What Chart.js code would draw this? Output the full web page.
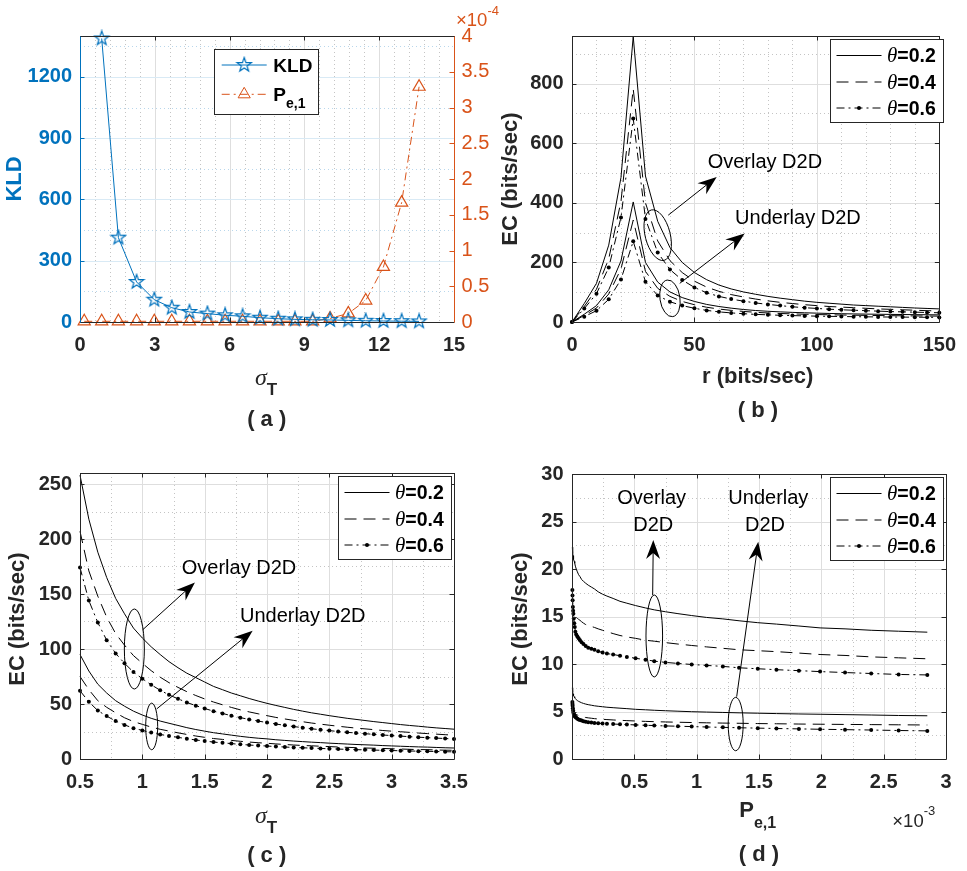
<!DOCTYPE html>
<html>
<head>
<meta charset="utf-8">
<script src="https://cdn.jsdelivr.net/npm/chart.js@4.4.1/dist/chart.umd.min.js"></script>
<style>
  html, body { margin: 0; padding: 0; background: #fff; }
  body { width: 967px; height: 871px; position: relative; overflow: hidden; }
  canvas { position: absolute; }
</style>
</head>
<body>
<canvas id="ca" width="520" height="440" style="left:0;top:0"></canvas>
<canvas id="cb" width="484" height="440" style="left:483px;top:0"></canvas>
<canvas id="cc" width="483" height="431" style="left:0;top:440px"></canvas>
<canvas id="cd" width="484" height="431" style="left:483px;top:440px"></canvas>
<script>
// ---- (a) KLD and P_e,1 versus sigma_T ----
const sigmaA = [0.17, 0.87, 1.54, 2.27, 2.98, 3.68, 4.39, 5.11, 5.82, 6.52, 7.22, 7.95, 8.62, 9.33, 10.03, 10.76, 11.46, 12.17, 12.9, 13.6];
const kld = [null, 1388, 413, 196, 109, 70, 49, 41, 33, 28, 21, 16, 13, 11, 10, 8, 6, 5, 4, 3];
const pe1 = [0.01, 0.01, 0.01, 0.01, 0.01, 0.01, 0.01, 0.01, 0.01, 0.01, 0.01, 0.01, 0.01, 0.01, 0.05, 0.12, 0.3, 0.77, 1.67, 3.29]; // x 1e-4
const ticksAx = [0, 3, 6, 9, 12, 15];
const ticksAy = [0, 300, 600, 900, 1200];
const ticksAy1 = [0, 0.5, 1, 1.5, 2, 2.5, 3, 3.5, 4];

// ---- (b) EC versus r ----
const rate = [0, 5, 10, 15, 20, 25, 30, 35, 40, 45, 50, 55, 60, 65, 70, 75, 80, 85, 90, 95, 100, 105, 110, 115, 120, 125, 130, 135, 140, 145, 150];
const ovlB02 = [0, 62, 130, 258, 485, 958, 490, 338, 250, 200, 166, 142, 124, 111, 101, 93, 86, 80, 75, 70, 66, 63, 60, 57, 55, 53, 51, 49, 47, 45.5, 44];
const ovlB04 = [0, 52, 110, 212, 405, 783, 400, 272, 206, 166, 137, 117, 103, 92, 84, 77, 71, 66, 62, 58, 55, 52, 50, 48, 46, 44, 42.5, 41, 39.5, 38, 37];
const ovlB06 = [0, 45, 95, 183, 351, 683, 346, 233, 176, 141, 116, 98, 86, 77, 70, 64, 59, 55, 51, 48, 45.5, 43, 41, 39.5, 38, 36.5, 35, 34, 33, 32, 31];
const undB02 = [0, 26, 55, 108, 205, 403, 200, 134, 101, 82, 69, 59, 52, 46.5, 42, 38.5, 36, 34, 32.3, 30.9, 29.7, 28.7, 27.8, 27.1, 26.5, 26, 25.5, 25.1, 24.7, 24.3, 24];
const undB04 = [0, 22, 47, 94, 178, 342, 170, 113, 86, 69, 58, 49.5, 43.5, 39, 35.5, 32.5, 30.3, 28.6, 27.2, 26, 25, 24.2, 23.4, 22.8, 22.2, 21.7, 21.2, 20.8, 20.4, 20, 19.7];
const undB06 = [0, 18, 38, 76, 143, 271, 135, 89, 68, 55, 46, 39, 34, 30.5, 27.8, 25.6, 24, 22.6, 21.5, 20.5, 19.7, 19, 18.4, 17.9, 17.4, 17, 16.7, 16.4, 16.1, 15.8, 15.5];
const ticksBx = [0, 50, 100, 150];
const ticksBy = [0, 200, 400, 600, 800];

// ---- (c) EC versus sigma_T ----
const sigmaC = [0.5, 0.571, 0.643, 0.714, 0.786, 0.857, 0.929, 1.0, 1.071, 1.143, 1.214, 1.286, 1.357, 1.429, 1.5, 1.571, 1.643, 1.714, 1.786, 1.857, 1.929, 2.0, 2.071, 2.143, 2.214, 2.286, 2.357, 2.429, 2.5, 2.571, 2.643, 2.714, 2.786, 2.857, 2.929, 3.0, 3.071, 3.143, 3.214, 3.286, 3.357, 3.429, 3.5];
const ovlC02 = [258, 218, 188, 165, 146, 132, 119, 110, 102, 95, 88.5, 83, 78, 74, 70, 66, 63, 60, 57.5, 55, 52.7, 50.6, 48.7, 46.9, 45.1, 43.5, 42, 40.7, 39.4, 38.2, 37, 36, 35, 34, 33.1, 32.2, 31.3, 30.5, 29.8, 29, 28.3, 27.7, 27.1];
const ovlC04 = [207, 171, 148, 129, 114, 103.5, 94, 87, 80.3, 74.4, 69.4, 65.1, 61.2, 57.7, 54.6, 51.8, 49.3, 46.9, 44.7, 42.8, 41.1, 39.4, 37.8, 36.4, 35.1, 33.9, 32.7, 31.7, 30.7, 29.8, 28.9, 28.1, 27.4, 26.7, 25.9, 25.3, 24.8, 24.2, 23.6, 23.1, 22.6, 22.1, 21.7];
const ovlC06 = [174, 144, 124, 108, 96, 87, 79, 73, 67.5, 62.5, 58.3, 54.7, 51.4, 48.5, 45.9, 43.5, 41.4, 39.4, 37.6, 36, 34.5, 33.1, 31.8, 30.6, 29.5, 28.5, 27.5, 26.6, 25.8, 25, 24.3, 23.6, 23, 22.4, 21.8, 21.3, 20.8, 20.3, 19.8, 19.4, 19, 18.6, 18.2];
const undC02 = [95, 80, 68, 60, 53, 48, 43.5, 40, 37, 34.5, 32.5, 30.5, 28.5, 26.8, 25.3, 23.9, 22.8, 21.7, 20.6, 19.7, 18.9, 18.3, 17.5, 16.9, 16.3, 15.8, 15.3, 14.9, 14.4, 14, 13.6, 13.2, 12.9, 12.6, 12.2, 11.9, 11.6, 11.3, 11, 10.8, 10.5, 10.2, 10];
const undC04 = [75, 63, 53, 47, 42, 37.5, 34, 31.5, 29, 27, 25.4, 23.8, 22.3, 20.9, 19.7, 18.6, 17.8, 16.9, 16.1, 15.4, 14.8, 14.3, 13.7, 13.2, 12.7, 12.3, 12, 11.6, 11.3, 10.9, 10.6, 10.3, 10, 9.8, 9.6, 9.3, 9.1, 8.8, 8.6, 8.5, 8.2, 8, 7.9];
const undC06 = [62, 52, 44, 39, 34.5, 31, 28, 26, 24, 22.3, 21, 19.7, 18.4, 17.3, 16.3, 15.4, 14.7, 14, 13.3, 12.7, 12.2, 11.8, 11.3, 10.9, 10.5, 10.2, 9.9, 9.6, 9.3, 9, 8.8, 8.5, 8.3, 8.1, 7.9, 7.7, 7.5, 7.3, 7.1, 7, 6.8, 6.6, 6.5];
const ticksCx = [0.5, 1, 1.5, 2, 2.5, 3, 3.5];
const ticksCy = [0, 50, 100, 150, 200, 250];

// ---- (d) EC versus P_e,1 (x 1e-3) ----
const pe1D = [0.003, 0.004, 0.005, 0.007, 0.009, 0.011, 0.014, 0.018, 0.022, 0.027, 0.034, 0.043, 0.053, 0.064, 0.077, 0.092, 0.11, 0.13, 0.155, 0.18, 0.21, 0.245, 0.28, 0.33, 0.385, 0.44, 0.51, 0.59, 0.66, 0.75, 0.85, 0.96, 1.08, 1.21, 1.34, 1.49, 1.64, 1.82, 1.99, 2.19, 2.4, 2.62, 2.85];
const ovlD02 = [22.3, 22.1, 21.9, 21.6, 21.4, 21.2, 21, 20.8, 20.6, 20.3, 20, 19.7, 19.4, 19.2, 18.9, 18.7, 18.5, 18.3, 18.1, 17.9, 17.6, 17.35, 17.15, 16.9, 16.6, 16.4, 16.15, 15.9, 15.7, 15.5, 15.3, 15.1, 14.9, 14.75, 14.55, 14.35, 14.2, 14, 13.8, 13.7, 13.55, 13.45, 13.35];
const ovlD04 = [16.8, 16.6, 16.4, 16.1, 15.9, 15.7, 15.5, 15.35, 15.2, 15.05, 14.9, 14.8, 14.7, 14.6, 14.45, 14.3, 14.15, 14.05, 13.95, 13.85, 13.7, 13.55, 13.4, 13.2, 13, 12.85, 12.7, 12.5, 12.4, 12.25, 12.1, 11.95, 11.8, 11.65, 11.5, 11.4, 11.3, 11.15, 11, 10.9, 10.75, 10.65, 10.55];
const ovlD06 = [17.8, 17.2, 16.7, 16, 15.6, 15.3, 14.8, 14.3, 13.9, 13.4, 13.1, 12.9, 12.7, 12.5, 12.3, 12.1, 11.9, 11.7, 11.6, 11.5, 11.35, 11.2, 11.1, 11, 10.87, 10.75, 10.6, 10.45, 10.3, 10.17, 10.06, 9.95, 9.85, 9.75, 9.6, 9.5, 9.4, 9.3, 9.2, 9.1, 9, 8.9, 8.85];
const undD02 = [7.5, 7.3, 7.15, 7, 6.85, 6.75, 6.65, 6.55, 6.45, 6.35, 6.25, 6.15, 6.07, 6, 5.92, 5.85, 5.78, 5.72, 5.66, 5.6, 5.55, 5.5, 5.45, 5.4, 5.35, 5.3, 5.23, 5.18, 5.13, 5.08, 5.03, 4.98, 4.94, 4.9, 4.86, 4.82, 4.78, 4.74, 4.71, 4.67, 4.63, 4.58, 4.55];
const undD04 = [5.6, 5.45, 5.35, 5.25, 5.15, 5.05, 4.97, 4.9, 4.83, 4.77, 4.7, 4.63, 4.57, 4.52, 4.47, 4.42, 4.37, 4.33, 4.29, 4.25, 4.21, 4.18, 4.15, 4.11, 4.07, 4.04, 4, 3.96, 3.93, 3.9, 3.87, 3.84, 3.81, 3.78, 3.76, 3.73, 3.71, 3.68, 3.66, 3.64, 3.62, 3.6, 3.58];
const undD06 = [6, 5.8, 5.6, 5.35, 5.1, 4.9, 4.75, 4.6, 4.5, 4.42, 4.33, 4.25, 4.17, 4.1, 4.04, 3.98, 3.93, 3.88, 3.84, 3.8, 3.77, 3.74, 3.71, 3.68, 3.65, 3.62, 3.59, 3.55, 3.52, 3.48, 3.45, 3.41, 3.37, 3.33, 3.29, 3.25, 3.21, 3.17, 3.13, 3.09, 3.05, 3, 2.96];
const ticksDx = [0.5, 1, 1.5, 2, 2.5, 3];
const ticksDy = [0, 5, 10, 15, 20, 25, 30];

// ---- styling ----
const BLUE = '#0072BD', ORANGE = '#D95319', AXIS = '#262626';
const SANS = '"Liberation Sans", Arial, Helvetica, sans-serif';
const SERIF = '"Liberation Serif", "Times New Roman", serif';
const DASH = [12, 7], DASHDOT = [8, 4, 2, 4];
const TICK = 4.5;

function pts(xs, ys) { return xs.map((x, i) => ({ x, y: ys[i] })); }

function starMarker(color, r) {
  const c = document.createElement('canvas');
  const s = Math.ceil(r * 2 + 3);
  c.width = c.height = s;
  const g = c.getContext('2d');
  g.strokeStyle = color;
  g.lineWidth = 1.2;
  g.beginPath();
  for (let k = 0; k < 10; k++) {
    const rad = k % 2 ? r * 0.4 : r;
    const ang = -Math.PI / 2 + k * Math.PI / 5;
    const px = s / 2 + rad * Math.cos(ang), py = s / 2 + rad * Math.sin(ang);
    k ? g.lineTo(px, py) : g.moveTo(px, py);
  }
  g.closePath();
  g.stroke();
  return c;
}
const starImg = starMarker(BLUE, 7.5);

function ecSet(label, xs, ys, kind) {
  return {
    label, data: pts(xs, ys), borderColor: '#000', borderWidth: 1,
    borderDash: kind === 'solid' ? [] : kind === 'dash' ? DASH : DASHDOT,
    pointRadius: kind === 'dot' ? 2 : 0, pointBackgroundColor: '#000',
    pointBorderWidth: 0, tension: 0, clip: false
  };
}

function axis(min, max, ticks, o) {
  return {
    type: 'linear', min, max, position: o.position,
    grid: { display: false, drawTicks: false },
    border: { display: false },
    afterBuildTicks: s => { s.ticks = ticks.map(v => ({ value: v })); },
    afterFit: o.fit,
    ticks: {
      autoSkip: false, maxRotation: 0, padding: o.pad, color: o.color || AXIS,
      font: { family: SANS, size: 20, weight: o.weight || 'bold' },
      callback: v => String(v)
    }
  };
}

// ---- drawing helpers ----
function lines(ctx, a, scale, vals, color, vertical) {
  ctx.strokeStyle = color;
  ctx.beginPath();
  vals.forEach(v => {
    const p = Math.round(scale.getPixelForValue(v)) + 0.5;
    if (vertical) { ctx.moveTo(p, a.top); ctx.lineTo(p, a.bottom); }
    else { ctx.moveTo(a.left, p); ctx.lineTo(a.right, p); }
  });
  ctx.stroke();
}

function minorVals(scale, step) {
  const majors = scale.ticks.map(t => t.value), out = [];
  for (let k = Math.ceil(scale.min / step); k * step < scale.max - 1e-9; k++) {
    const v = +(k * step).toFixed(6);
    if (v > scale.min && !majors.some(m => Math.abs(m - v) < 1e-6)) out.push(v);
  }
  return out;
}

function marks(ctx, a, scale, side, color) {
  ctx.strokeStyle = color;
  ctx.beginPath();
  scale.ticks.forEach(t => {
    const p = Math.round(scale.getPixelForValue(t.value)) + 0.5;
    if (side === 'bottom') { ctx.moveTo(p, a.bottom); ctx.lineTo(p, a.bottom - TICK); }
    if (side === 'top') { ctx.moveTo(p, a.top); ctx.lineTo(p, a.top + TICK); }
    if (side === 'left') { ctx.moveTo(a.left, p); ctx.lineTo(a.left + TICK, p); }
    if (side === 'right') { ctx.moveTo(a.right, p); ctx.lineTo(a.right - TICK, p); }
  });
  ctx.stroke();
}

function edge(ctx, x1, y1, x2, y2, color) {
  ctx.strokeStyle = color;
  ctx.beginPath(); ctx.moveTo(x1, y1); ctx.lineTo(x2, y2); ctx.stroke();
}

function runs(ctx, x, y, list, align) {
  let w = 0;
  list.forEach(r => { ctx.font = r.f; w += ctx.measureText(r.t).width; });
  let cx = align === 'center' ? x - w / 2 : x;
  ctx.textAlign = 'left';
  list.forEach(r => {
    ctx.font = r.f;
    ctx.fillStyle = r.c || AXIS;
    ctx.fillText(r.t, cx, y + (r.dy || 0));
    cx += ctx.measureText(r.t).width;
  });
}

function marker(ctx, kind, x, y) {
  if (kind === 'dot') {
    ctx.fillStyle = '#000';
    ctx.beginPath(); ctx.arc(x, y, 2, 0, 2 * Math.PI); ctx.fill();
  } else if (kind === 'star') {
    ctx.drawImage(starImg, x - starImg.width / 2, y - starImg.height / 2);
  } else if (kind === 'tri') {
    ctx.strokeStyle = ORANGE;
    ctx.beginPath();
    for (let k = 0; k < 3; k++) {
      const ang = -Math.PI / 2 + k * 2 * Math.PI / 3;
      const px = x + 7 * Math.cos(ang), py = y + 7 * Math.sin(ang);
      k ? ctx.lineTo(px, py) : ctx.moveTo(px, py);
    }
    ctx.closePath(); ctx.stroke();
  }
}

function arrow(ctx, x1, y1, x2, y2) {
  const ang = Math.atan2(y2 - y1, x2 - x1);
  ctx.beginPath();
  ctx.moveTo(x1, y1);
  ctx.lineTo(x2 - 12 * Math.cos(ang), y2 - 12 * Math.sin(ang));
  ctx.stroke();
  ctx.save();
  ctx.translate(x2, y2); ctx.rotate(ang);
  ctx.beginPath();
  ctx.moveTo(0, 0); ctx.lineTo(-19, -7); ctx.lineTo(-13, 0); ctx.lineTo(-19, 7);
  ctx.closePath(); ctx.fill();
  ctx.restore();
}

// MATLAB-like axes box, grid, annotations and legend
const frame = {
  id: 'frame',
  beforeDatasetsDraw(chart, args, o) {
    const { ctx, chartArea: a } = chart;
    const sx = chart.scales.x, sy = chart.scales.y;
    ctx.save();
    ctx.lineWidth = 1;
    ctx.setLineDash([1, 3]);
    lines(ctx, a, sx, minorVals(sx, o.minorX), o.minorColorX || '#c4c4c4', true);
    lines(ctx, a, sy, minorVals(sy, o.minorY), o.minorColorY || '#c4c4c4', false);
    ctx.setLineDash([]);
    lines(ctx, a, sx, sx.ticks.map(t => t.value), o.gridColorX || '#dedede', true);
    lines(ctx, a, sy, sy.ticks.map(t => t.value), o.gridColorY || '#dedede', false);
    ctx.restore();
  },
  afterDatasetsDraw(chart, args, o) {
    const { ctx, chartArea: a } = chart;
    const sx = chart.scales.x, sy = chart.scales.y;
    ctx.save();
    ctx.lineWidth = 1;
    marks(ctx, a, sx, 'bottom', AXIS);
    marks(ctx, a, sx, 'top', AXIS);
    if (o.twin) {
      marks(ctx, a, sy, 'left', BLUE);
      marks(ctx, a, chart.scales.y1, 'right', ORANGE);
    } else {
      marks(ctx, a, sy, 'left', AXIS);
      marks(ctx, a, sy, 'right', AXIS);
    }
    const L = Math.round(a.left) + 0.5, R = Math.round(a.right) + 0.5;
    const T = Math.round(a.top) + 0.5, B = Math.round(a.bottom) + 0.5;
    edge(ctx, L, T, R, T, AXIS);
    edge(ctx, L, B, R, B, AXIS);
    edge(ctx, L, T, L, B, o.leftColor || AXIS);
    edge(ctx, R, T, R, B, o.rightColor || AXIS);

    // annotations (data coordinates)
    ctx.strokeStyle = '#000'; ctx.fillStyle = '#000';
    (o.notes || []).forEach(n => {
      if (n.ellipse) {
        ctx.beginPath();
        ctx.ellipse(sx.getPixelForValue(n.ellipse[0]), sy.getPixelForValue(n.ellipse[1]), n.rx, n.ry, n.rot || 0, 0, 2 * Math.PI);
        ctx.stroke();
      }
      if (n.arrow) {
        const [x1, y1, x2, y2] = n.arrow;
        arrow(ctx, sx.getPixelForValue(x1), sy.getPixelForValue(y1), sx.getPixelForValue(x2), sy.getPixelForValue(y2));
      }
      if (n.text) {
        ctx.font = '20px ' + SANS;
        ctx.fillStyle = '#000';
        ctx.textAlign = n.align || 'left';
        ctx.textBaseline = 'middle';
        ctx.fillText(n.text, sx.getPixelForValue(n.at[0]), sy.getPixelForValue(n.at[1]));
      }
    });

    // legend box
    const lg = o.legend;
    if (lg) {
      const bx = Math.round(a.left + lg.x), by = Math.round(a.top + lg.y);
      ctx.fillStyle = '#fff';
      ctx.fillRect(bx, by, lg.w, lg.h);
      ctx.strokeStyle = AXIS;
      ctx.strokeRect(bx + 0.5, by + 0.5, lg.w, lg.h);
      lg.rows.forEach(r => {
        const y = by + r.y;
        ctx.save();
        ctx.strokeStyle = r.color || '#000';
        ctx.setLineDash(r.dash || []);
        ctx.beginPath(); ctx.moveTo(bx + lg.x0, y); ctx.lineTo(bx + lg.x1, y); ctx.stroke();
        ctx.restore();
        if (r.marker) marker(ctx, r.marker, bx + (lg.x0 + lg.x1) / 2, y);
        ctx.textBaseline = 'alphabetic';
        runs(ctx, bx + lg.tx, y + 6.8, r.runs, 'left');
      });
    }
    ctx.restore();
  },
  afterDraw(chart, args, o) {
    const ctx = chart.ctx;
    ctx.save();
    (o.texts || []).forEach(t => {
      if (t.rot) {
        ctx.save();
        ctx.translate(t.x, t.y); ctx.rotate(-Math.PI / 2);
        ctx.textBaseline = 'middle';
        runs(ctx, 0, 0, t.runs, 'center');
        ctx.restore();
      } else {
        ctx.textBaseline = 'alphabetic';
        runs(ctx, t.x, t.y, t.runs, t.align || 'left');
      }
    });
    ctx.restore();
  }
};

const B22 = 'bold 22px ' + SANS;
function theta(v) {
  return [{ t: 'θ', f: 'italic 21px ' + SERIF, c: '#000' }, { t: '=' + v, f: 'bold 19.5px ' + SANS, c: '#000' }];
}
const thetaLegend = {
  x: 258, y: 3, w: 113, h: 83, x0: 6.5, x1: 51.5, tx: 57,
  rows: [
    { y: 16.5, dash: [], runs: theta('0.2') },
    { y: 43, dash: DASH, runs: theta('0.4') },
    { y: 69, dash: DASHDOT, marker: 'dot', runs: theta('0.6') }
  ]
};
function ecTitle(x) { return { rot: true, x, y: 179, runs: [{ t: 'EC (bits/sec)', f: B22 }] }; }
function sigmaTitle(y) {
  return { x: 255, y, runs: [{ t: 'σ', f: 'italic 24px ' + SERIF }, { t: 'T', f: 'bold 17px ' + SANS, dy: 9.5 }] };
}

function options(padTop, padRight, scales, frameOpts) {
  return {
    responsive: false, animation: false, devicePixelRatio: 1, events: [],
    layout: { padding: { top: padTop, right: padRight, left: 0, bottom: 0 } },
    plugins: { legend: { display: false }, tooltip: { enabled: false }, frame: frameOpts },
    scales
  };
}

// ---- (a) ----
new Chart(document.getElementById('ca'), {
  type: 'line',
  data: {
    datasets: [
      { label: 'KLD', data: pts(sigmaA, kld), yAxisID: 'y', borderColor: BLUE, borderWidth: 1,
        pointStyle: starImg, pointRadius: 7, tension: 0, clip: false },
      { label: 'Pe,1', data: pts(sigmaA, pe1), yAxisID: 'y1', borderColor: ORANGE, borderWidth: 1,
        borderDash: DASHDOT, pointStyle: 'triangle', pointRadius: 7, pointBorderColor: ORANGE,
        pointBackgroundColor: 'rgba(255,255,255,0)', pointBorderWidth: 1.2, tension: 0, clip: false }
    ]
  },
  options: options(36, 0, {
    x: axis(0, 15, ticksAx, { pad: 11, fit: s => { s.height = 118; } }),
    y: axis(0, 1400, ticksAy, { pad: 8, color: BLUE, fit: s => { s.width = 80; } }),
    y1: axis(0, 4, ticksAy1, { position: 'right', pad: 7.5, color: ORANGE, weight: 'normal', fit: s => { s.width = 66; } })
  }, {
    minorX: 0.6, minorY: 150, gridColorY: '#d9eaf5', minorColorY: '#b9d7ec',
    twin: true, leftColor: BLUE, rightColor: ORANGE,
    legend: {
      x: 134, y: 13, w: 104, h: 65, x0: 7.7, x1: 52.7, tx: 59.3,
      rows: [
        { y: 16, color: BLUE, marker: 'star', runs: [{ t: 'KLD', f: 'bold 19px ' + SANS, c: '#000' }] },
        { y: 45.3, color: ORANGE, dash: DASHDOT, marker: 'tri',
          runs: [{ t: 'P', f: 'bold 19px ' + SANS, c: '#000' }, { t: 'e,1', f: 'bold 14px ' + SANS, c: '#000', dy: 7 }] }
      ]
    },
    texts: [
      { rot: true, x: 15, y: 179, runs: [{ t: 'KLD', f: B22, c: BLUE }] },
      sigmaTitle(385),
      { x: 266.7, y: 426, align: 'center', runs: [{ t: '( a )', f: B22 }] },
      { x: 456, y: 25.5, runs: [{ t: '×10', f: '18.5px ' + SANS, c: ORANGE }, { t: '-4', f: '13px ' + SANS, c: ORANGE, dy: -10.5 }] }
    ]
  }),
  plugins: [frame]
});

// ---- (b) ----
new Chart(document.getElementById('cb'), {
  type: 'line',
  data: {
    datasets: [
      ecSet('Overlay θ=0.2', rate, ovlB02, 'solid'),
      ecSet('Overlay θ=0.4', rate, ovlB04, 'dash'),
      ecSet('Overlay θ=0.6', rate, ovlB06, 'dot'),
      ecSet('Underlay θ=0.2', rate, undB02, 'solid'),
      ecSet('Underlay θ=0.4', rate, undB04, 'dash'),
      ecSet('Underlay θ=0.6', rate, undB06, 'dot')
    ]
  },
  options: options(36, 21, {
    x: axis(0, 150, ticksBx, { pad: 11, fit: s => { s.height = 118; } }),
    y: axis(0, 960, ticksBy, { pad: 8.5, fit: s => { s.width = 89; } })
  }, {
    minorX: 10, minorY: 100,
    legend: thetaLegend,
    notes: [
      { text: 'Overlay D2D', at: [55.4, 536] },
      { ellipse: [35, 291.5], rx: 12.5, ry: 26, rot: -0.25 },
      { arrow: [39.3, 358.6, 59.1, 487] },
      { text: 'Underlay D2D', at: [66.6, 347.5] },
      { ellipse: [40, 79.4], rx: 10, ry: 18.5, rot: -0.15 },
      { arrow: [44, 129.7, 70.5, 297.3] }
    ],
    texts: [
      ecTitle(28),
      { x: 274.7, y: 383, align: 'center', runs: [{ t: 'r (bits/sec)', f: B22 }] },
      { x: 275, y: 416.7, align: 'center', runs: [{ t: '( b )', f: B22 }] }
    ]
  }),
  plugins: [frame]
});

// ---- (c) ----
new Chart(document.getElementById('cc'), {
  type: 'line',
  data: {
    datasets: [
      ecSet('Overlay θ=0.2', sigmaC, ovlC02, 'solid'),
      ecSet('Overlay θ=0.4', sigmaC, ovlC04, 'dash'),
      ecSet('Overlay θ=0.6', sigmaC, ovlC06, 'dot'),
      ecSet('Underlay θ=0.2', sigmaC, undC02, 'solid'),
      ecSet('Underlay θ=0.4', sigmaC, undC04, 'dash'),
      ecSet('Underlay θ=0.6', sigmaC, undC06, 'dot')
    ]
  },
  options: options(33, 29, {
    x: axis(0.5, 3.5, ticksCx, { pad: 11, fit: s => { s.height = 112; } }),
    y: axis(0, 260, ticksCy, { pad: 8, fit: s => { s.width = 80; } })
  }, {
    minorX: 0.25, minorY: 25,
    legend: thetaLegend,
    notes: [
      { text: 'Overlay D2D', at: [1.316, 173.6] },
      { ellipse: [0.936, 100], rx: 10, ry: 40 },
      { arrow: [1.003, 117.5, 1.422, 160.5] },
      { text: 'Underlay D2D', at: [1.783, 129.6] },
      { ellipse: [1.075, 29.6], rx: 6, ry: 23.3 },
      { arrow: [1.115, 45.5, 1.885, 116.6] }
    ],
    texts: [
      ecTitle(18.3),
      sigmaTitle(383),
      { x: 266.7, y: 421.7, align: 'center', runs: [{ t: '( c )', f: B22 }] }
    ]
  }),
  plugins: [frame]
});

// ---- (d) ----
new Chart(document.getElementById('cd'), {
  type: 'line',
  data: {
    datasets: [
      ecSet('Overlay θ=0.2', pe1D, ovlD02, 'solid'),
      ecSet('Overlay θ=0.4', pe1D, ovlD04, 'dash'),
      ecSet('Overlay θ=0.6', pe1D, ovlD06, 'dot'),
      ecSet('Underlay θ=0.2', pe1D, undD02, 'solid'),
      ecSet('Underlay θ=0.4', pe1D, undD04, 'dash'),
      ecSet('Underlay θ=0.6', pe1D, undD06, 'dot')
    ]
  },
  options: options(34, 21, {
    x: axis(0, 3, ticksDx, { pad: 11, fit: s => { s.height = 112; } }),
    y: axis(0, 30, ticksDy, { pad: 8.5, fit: s => { s.width = 89; } })
  }, {
    minorX: 0.25, minorY: 2.5,
    legend: thetaLegend,
    notes: [
      { text: 'Overlay', at: [0.639, 27.44], align: 'center' },
      { text: 'D2D', at: [0.652, 24.63], align: 'center' },
      { text: 'Underlay', at: [1.575, 27.44], align: 'center' },
      { text: 'D2D', at: [1.548, 24.63], align: 'center' },
      { ellipse: [0.66, 12.95], rx: 8.3, ry: 41 },
      { arrow: [0.647, 17.26, 0.652, 23.05] },
      { ellipse: [1.313, 3.68], rx: 7.5, ry: 26.7 },
      { arrow: [1.321, 6.56, 1.494, 22.87] }
    ],
    texts: [
      ecTitle(37.7),
      { x: 256.3, y: 376.7, runs: [{ t: 'P', f: B22 }, { t: 'e,1', f: 'bold 16px ' + SANS, dy: 11 }] },
      { x: 409.3, y: 386.7, runs: [{ t: '×10', f: '18.5px ' + SANS }, { t: '-3', f: '13px ' + SANS, dy: -11.5 }] },
      { x: 276, y: 420.7, align: 'center', runs: [{ t: '( d )', f: B22 }] }
    ]
  }),
  plugins: [frame]
});
</script>
</body>
</html>
